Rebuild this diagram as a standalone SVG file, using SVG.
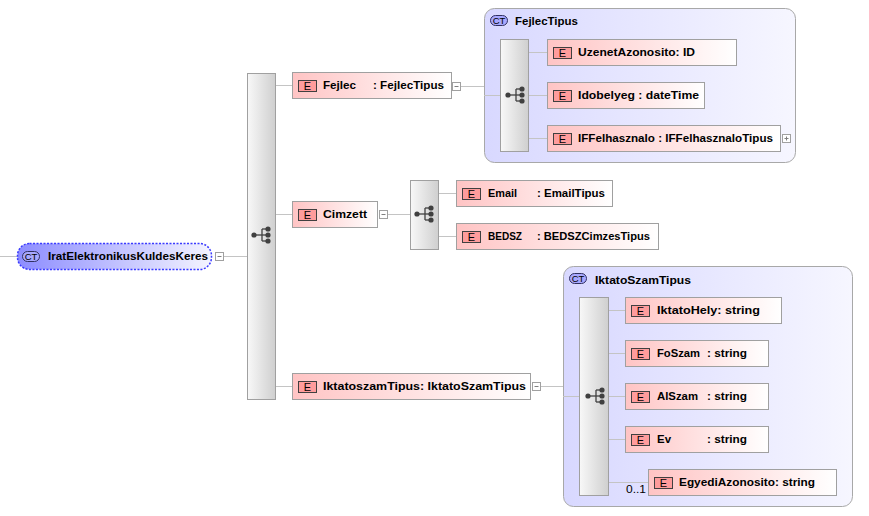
<svg xmlns="http://www.w3.org/2000/svg" width="869" height="516" viewBox="0 0 869 516">
<defs>
<linearGradient id="gEl" x1="0" y1="0" x2="1" y2="0"><stop offset="0" stop-color="#ffc4c4"/><stop offset="1" stop-color="#ffffff"/></linearGradient>
<linearGradient id="gSeq" x1="0" y1="0" x2="1" y2="0"><stop offset="0" stop-color="#f8f8f8"/><stop offset="1" stop-color="#cfcfcf"/></linearGradient>
<linearGradient id="gCT" x1="0" y1="0" x2="1" y2="0"><stop offset="0" stop-color="#d8d8ff"/><stop offset="1" stop-color="#f6f6ff"/></linearGradient>
<linearGradient id="gRoot" x1="0" y1="0" x2="1" y2="0"><stop offset="0" stop-color="#8c8cff"/><stop offset="1" stop-color="#f4f4ff"/></linearGradient>
<g id="seqIcon">
<circle cx="-8" cy="0" r="2.6" fill="#404040"/>
<line x1="-8" y1="0" x2="0" y2="0" stroke="#404040" stroke-width="1.3"/>
<line x1="0" y1="-6" x2="0" y2="6" stroke="#404040" stroke-width="1.3"/>
<line x1="0" y1="-6" x2="6" y2="-6" stroke="#404040" stroke-width="1.3"/>
<line x1="0" y1="6" x2="6" y2="6" stroke="#404040" stroke-width="1.3"/>
<line x1="0" y1="0" x2="6" y2="0" stroke="#404040" stroke-width="1.3"/>
<circle cx="6" cy="-6" r="2.6" fill="#404040"/>
<circle cx="6" cy="0" r="2.6" fill="#404040"/>
<circle cx="6" cy="6" r="2.6" fill="#404040"/>
</g>
<g id="minus"><rect x="0.5" y="0.5" width="8" height="8" fill="#fff" stroke="#a0a0a0"/><line x1="2.5" y1="4.5" x2="6.5" y2="4.5" stroke="#808080"/></g>
<g id="plus"><rect x="0.5" y="0.5" width="8" height="8" fill="#fff" stroke="#a0a0a0"/><line x1="2.5" y1="4.5" x2="6.5" y2="4.5" stroke="#808080"/><line x1="4.5" y1="2.5" x2="4.5" y2="6.5" stroke="#808080"/></g>
<g id="badge"><rect x="0.5" y="0.5" width="18" height="11" fill="#ff9c9c" stroke="#404040"/><text x="9.5" y="10" text-anchor="middle" style="font-family:'Liberation Sans',Arial,sans-serif;font-size:11px;fill:#000">E</text></g>
<g id="ctIcon"><rect x="0.5" y="0.5" width="17" height="10" rx="5" fill="#a8a8ff" stroke="#303060"/><text x="9" y="9" text-anchor="middle" style="font-family:'Liberation Sans',Arial,sans-serif;font-size:9.5px;fill:#000">CT</text></g>
</defs>
<style>
.el{fill:url(#gEl);stroke:#a0a0a0;stroke-width:1}
.seq{fill:url(#gSeq);stroke:#a0a0a0;stroke-width:1}
.ct{fill:url(#gCT);stroke:#a8a8a8;stroke-width:1}
.t{font-family:'Liberation Sans',Arial,sans-serif;font-size:11px;font-weight:bold;fill:#000}
.tn{font-family:'Liberation Sans',Arial,sans-serif;font-size:10px;fill:#000}
.c{stroke:#c4c4c4;stroke-width:1;fill:none}
</style>

<g id="ct-FejlecTipus">
<rect class="ct" x="484.5" y="8.5" width="311" height="154" rx="10"/>
<use href="#ctIcon" x="490" y="15"/>
<text class="t" x="515" y="25" textLength="63" lengthAdjust="spacingAndGlyphs">FejlecTipus</text>
</g>
<g id="ct-IktatoSzamTipus">
<rect class="ct" x="563.5" y="266.5" width="289" height="240" rx="10"/>
<use href="#ctIcon" x="569" y="273"/>
<text class="t" x="595" y="284" textLength="96" lengthAdjust="spacingAndGlyphs">IktatoSzamTipus</text>
</g>

<g id="connectors">
<path class="c" d="M0 256.5H17M224 256.5H247"/>
<path class="c" d="M275 85.5H292M275 214.5H292M275 386.5H292"/>
<path class="c" d="M461 86.5H484M484 95.5H500"/>
<path class="c" d="M529 52.5H547M529 95.5H547M529 138.5H547"/>
<path class="c" d="M387 214.5H410M439 193.5H456M439 236.5H456"/>
<path class="c" d="M540 386.5H563M563 396.5H579"/>
<path class="c" d="M609 310.5H625M609 353.5H625M609 396.5H625M609 439.5H625M609 482.5H648"/>
</g>

<g id="root">
<rect x="17.5" y="243.5" width="194" height="26" rx="12" fill="url(#gRoot)" stroke="#3b3bff" stroke-width="1.5" stroke-dasharray="2,1.5"/>
<use href="#ctIcon" x="22" y="251"/>
<text class="t" x="48" y="260" textLength="160" lengthAdjust="spacingAndGlyphs">IratElektronikusKuldesKeres</text>
<use href="#minus" x="215" y="252"/>
</g>

<g id="seq-main">
<rect class="seq" x="247.5" y="73.5" width="28" height="326"/>
<use href="#seqIcon" x="262" y="235"/>
</g>

<g id="Fejlec">
<rect class="el" x="292.5" y="72.5" width="159" height="26"/>
<use href="#badge" x="298" y="80"/>
<text class="t" x="323" y="89" textLength="33" lengthAdjust="spacingAndGlyphs">Fejlec</text>
<text class="t" x="373" y="89" textLength="71" lengthAdjust="spacingAndGlyphs">: FejlecTipus</text>
<use href="#minus" x="452" y="82"/>
</g>

<g id="seq-Fejlec">
<rect class="seq" x="500.5" y="39.5" width="28" height="112"/>
<use href="#seqIcon" x="516" y="95"/>
</g>
<g id="UzenetAzonosito">
<rect class="el" x="547.5" y="39.5" width="189" height="26"/>
<use href="#badge" x="553" y="47"/>
<text class="t" x="578" y="56" textLength="117" lengthAdjust="spacingAndGlyphs">UzenetAzonosito: ID</text>
</g>
<g id="Idobelyeg">
<rect class="el" x="547.5" y="82.5" width="157" height="26"/>
<use href="#badge" x="553" y="90"/>
<text class="t" x="578" y="99" textLength="121" lengthAdjust="spacingAndGlyphs">Idobelyeg : dateTime</text>
</g>
<g id="IFFelhasznalo">
<rect class="el" x="547.5" y="125.5" width="233" height="26"/>
<use href="#badge" x="553" y="133"/>
<text class="t" x="578" y="142" textLength="195" lengthAdjust="spacingAndGlyphs">IFFelhasznalo : IFFelhasznaloTipus</text>
<use href="#plus" x="782" y="134"/>
</g>

<g id="Cimzett">
<rect class="el" x="292.5" y="201.5" width="85" height="26"/>
<use href="#badge" x="298" y="209"/>
<text class="t" x="323" y="218" textLength="44" lengthAdjust="spacingAndGlyphs">Cimzett</text>
<use href="#minus" x="379" y="210"/>
</g>
<g id="seq-Cimzett">
<rect class="seq" x="410.5" y="180.5" width="28" height="69"/>
<use href="#seqIcon" x="425" y="214"/>
</g>
<g id="Email">
<rect class="el" x="456.5" y="180.5" width="156" height="26"/>
<use href="#badge" x="462" y="188"/>
<text class="t" x="488" y="197" textLength="29" lengthAdjust="spacingAndGlyphs">Email</text>
<text class="t" x="537" y="197" textLength="68" lengthAdjust="spacingAndGlyphs">: EmailTipus</text>
</g>
<g id="BEDSZ">
<rect class="el" x="456.5" y="223.5" width="202" height="26"/>
<use href="#badge" x="462" y="231"/>
<text class="t" x="488" y="240" textLength="34" lengthAdjust="spacingAndGlyphs">BEDSZ</text>
<text class="t" x="537" y="240" textLength="113" lengthAdjust="spacingAndGlyphs">: BEDSZCimzesTipus</text>
</g>

<g id="IktatoszamTipus">
<rect class="el" x="292.5" y="373.5" width="238" height="26"/>
<use href="#badge" x="298" y="381"/>
<text class="t" x="323" y="390" textLength="203" lengthAdjust="spacingAndGlyphs">IktatoszamTipus: IktatoSzamTipus</text>
<use href="#minus" x="532" y="382"/>
</g>
<g id="seq-Iktato">
<rect class="seq" x="579.5" y="297.5" width="29" height="198"/>
<use href="#seqIcon" x="596" y="396"/>
</g>
<g id="IktatoHely">
<rect class="el" x="625.5" y="297.5" width="156" height="26"/>
<use href="#badge" x="631" y="305"/>
<text class="t" x="657" y="314" textLength="103" lengthAdjust="spacingAndGlyphs">IktatoHely: string</text>
</g>
<g id="FoSzam">
<rect class="el" x="625.5" y="340.5" width="143" height="26"/>
<use href="#badge" x="631" y="348"/>
<text class="t" x="657" y="357" textLength="43" lengthAdjust="spacingAndGlyphs">FoSzam</text>
<text class="t" x="707" y="357" textLength="40" lengthAdjust="spacingAndGlyphs">: string</text>
</g>
<g id="AlSzam">
<rect class="el" x="625.5" y="383.5" width="143" height="26"/>
<use href="#badge" x="631" y="391"/>
<text class="t" x="657" y="400" textLength="41" lengthAdjust="spacingAndGlyphs">AlSzam</text>
<text class="t" x="707" y="400" textLength="40" lengthAdjust="spacingAndGlyphs">: string</text>
</g>
<g id="Ev">
<rect class="el" x="625.5" y="426.5" width="143" height="26"/>
<use href="#badge" x="631" y="434"/>
<text class="t" x="657" y="443" textLength="14" lengthAdjust="spacingAndGlyphs">Ev</text>
<text class="t" x="707" y="443" textLength="40" lengthAdjust="spacingAndGlyphs">: string</text>
</g>
<g id="EgyediAzonosito">
<rect class="el" x="648.5" y="469.5" width="188" height="26"/>
<use href="#badge" x="654" y="477"/>
<text class="t" x="679" y="486" textLength="136" lengthAdjust="spacingAndGlyphs">EgyediAzonosito: string</text>
<text class="tn" x="626" y="493" textLength="20" lengthAdjust="spacingAndGlyphs">0..1</text>
</g>
</svg>
